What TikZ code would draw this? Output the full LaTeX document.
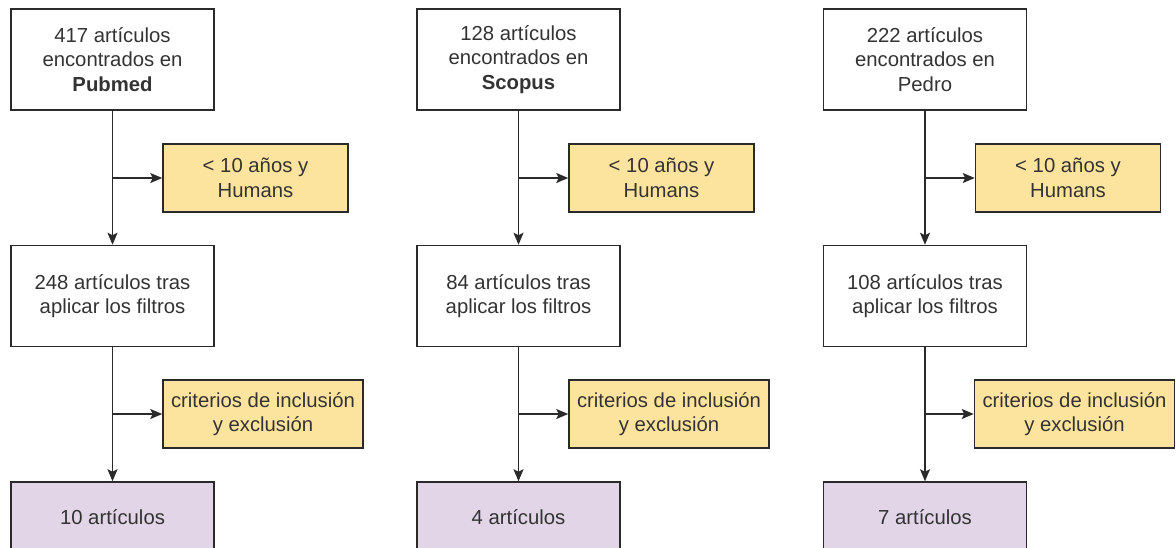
\documentclass[tikz,border=0pt]{standalone}
\usepackage{fontspec}
\setmainfont{Liberation Sans}
\usetikzlibrary{arrows.meta}
\definecolor{txt}{HTML}{333333}
\definecolor{ln}{HTML}{2A2A2A}
\definecolor{yfill}{HTML}{FDE49E}
\definecolor{pfill}{HTML}{E1D5E7}
\tikzset{
  base/.style={draw=ln, line width=1.5pt, text=txt, align=center, inner sep=0pt,
    font=\fontsize{20.3pt}{24.5pt}\selectfont},
  whitebox/.style={base, fill=white, minimum width=203pt, minimum height=101pt},
  filterbox/.style={base, fill=yfill, minimum width=185pt, minimum height=68pt},
  critbox/.style={base, fill=yfill, minimum width=200pt, minimum height=68pt},
  resultbox/.style={base, fill=pfill, minimum width=203pt, minimum height=70pt},
  arr/.style={draw=ln, line width=1.5pt, -{Stealth[length=12pt,width=10pt,inset=2.5pt]}},
}
\begin{document}
\begin{tikzpicture}[x=1pt,y=-1pt]
\useasboundingbox (0,0) rectangle (1176,547);
\clip (0,0) rectangle (1176,547);
\fill[white] (0,0) rectangle (1176,547);

% column 1
\node[whitebox] (t1) at (112.5,59.5) {417 artículos\\encontrados en\\\textbf{Pubmed}};
\node[filterbox] (f1) at (255.5,178) {< 10 años y\\Humans};
\node[whitebox] (m1) at (112.5,296) {248 artículos tras\\aplicar los filtros};
\node[critbox] (c1) at (263,414) {criterios de inclusión\\y exclusión};
\node[resultbox] (r1) at (112.5,517) {10 artículos};

% column 2
\node[whitebox] (t2) at (518.5,59.5) {128 artículos\\encontrados en\\\textbf{Scopus}};
\node[filterbox] (f2) at (661.5,178) {< 10 años y\\Humans};
\node[whitebox] (m2) at (518.5,296) {84 artículos tras\\aplicar los filtros};
\node[critbox] (c2) at (669,414) {criterios de inclusión\\y exclusión};
\node[resultbox] (r2) at (518.5,517) {4 artículos};

% column 3
\node[whitebox] (t3) at (925,59.5) {222 artículos\\encontrados en\\Pedro};
\node[filterbox] (f3) at (1068,178) {< 10 años y\\Humans};
\node[whitebox] (m3) at (925,296) {108 artículos tras\\aplicar los filtros};
\node[critbox] (c3) at (1074.5,414) {criterios de inclusión\\y exclusión};
\node[resultbox] (r3) at (925,517) {7 artículos};

\foreach \i in {1,2,3}{
  \draw[arr] (t\i) -- (m\i);
  \draw[arr] (m\i) -- (r\i);
  \coordinate (jf\i) at (t\i.south |- f\i.west);
  \coordinate (jc\i) at (m\i.south |- c\i.west);
  \draw[arr] (jf\i) -- (f\i);
  \draw[arr] (jc\i) -- (c\i);
}
\end{tikzpicture}
\end{document}
